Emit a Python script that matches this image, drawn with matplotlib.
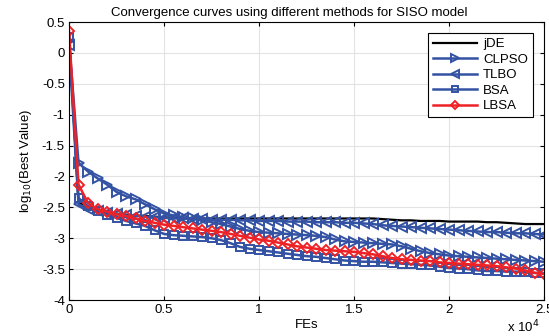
import numpy as np
import matplotlib
matplotlib.use("Agg")
import matplotlib.pyplot as plt
from matplotlib.ticker import FuncFormatter

plt.rcParams['font.family'] = ['Liberation Sans', 'DejaVu Sans']
plt.rcParams['axes.unicode_minus'] = False

# function evaluations, one record every 500 FEs
fes = np.arange(0, 25001, 500)

jde = [0.3, -2.42, -2.5, -2.55, -2.58, -2.6, -2.62, -2.63, -2.64, -2.65,
       -2.66, -2.67, -2.67, -2.68, -2.68, -2.68, -2.68, -2.68, -2.68, -2.68,
       -2.68, -2.68, -2.68, -2.68, -2.68, -2.68, -2.68, -2.68, -2.68, -2.68,
       -2.68, -2.68, -2.68, -2.69, -2.7, -2.71, -2.71, -2.72, -2.72, -2.72,
       -2.73, -2.73, -2.73, -2.73, -2.74, -2.74, -2.75, -2.76, -2.77, -2.77,
       -2.77]
clpso = [0.2, -1.78, -1.92, -2.03, -2.13, -2.25, -2.32, -2.37, -2.45, -2.53,
         -2.6, -2.63, -2.66, -2.68, -2.71, -2.74, -2.77, -2.81, -2.85, -2.88,
         -2.9, -2.91, -2.92, -2.93, -2.94, -2.95, -2.96, -2.98, -3.02, -3.05,
         -3.06, -3.07, -3.08, -3.09, -3.1, -3.13, -3.17, -3.21, -3.24, -3.26,
         -3.28, -3.29, -3.3, -3.31, -3.32, -3.33, -3.34, -3.35, -3.36, -3.37,
         -3.38]
tlbo = [0.13, -2.45, -2.52, -2.56, -2.59, -2.61, -2.63, -2.64, -2.65, -2.66,
        -2.67, -2.68, -2.68, -2.69, -2.69, -2.7, -2.7, -2.7, -2.71, -2.71,
        -2.72, -2.72, -2.72, -2.73, -2.73, -2.73, -2.74, -2.74, -2.74, -2.75,
        -2.75, -2.76, -2.77, -2.79, -2.8, -2.81, -2.82, -2.83, -2.84, -2.85,
        -2.86, -2.87, -2.88, -2.89, -2.9, -2.9, -2.91, -2.92, -2.92, -2.93,
        -2.94]
bsa = [0.25, -2.35, -2.48, -2.56, -2.62, -2.67, -2.72, -2.76, -2.8, -2.87,
       -2.93, -2.95, -2.96, -2.97, -2.98, -3.0, -3.03, -3.08, -3.14, -3.17,
       -3.19, -3.21, -3.23, -3.25, -3.27, -3.29, -3.3, -3.32, -3.34, -3.36,
       -3.37, -3.38, -3.38, -3.39, -3.4, -3.41, -3.42, -3.43, -3.44, -3.46,
       -3.48, -3.49, -3.5, -3.52, -3.53, -3.53, -3.54, -3.54, -3.55, -3.56,
       -3.57]
lbsa = [0.35, -2.13, -2.43, -2.53, -2.57, -2.61, -2.64, -2.68, -2.72, -2.75,
        -2.78, -2.8, -2.82, -2.84, -2.86, -2.88, -2.9, -2.93, -2.96, -2.99,
        -3.02, -3.04, -3.07, -3.1, -3.13, -3.15, -3.17, -3.19, -3.2, -3.21,
        -3.22, -3.24, -3.26, -3.29, -3.32, -3.34, -3.35, -3.36, -3.37, -3.39,
        -3.4, -3.41, -3.42, -3.43, -3.44, -3.45, -3.47, -3.49, -3.52, -3.56,
        -3.58]

blue = '#3352a3'
red = '#ee2226'
fs = 9.5

fig = plt.figure(figsize=(5.49, 3.36), dpi=100)
ax = fig.add_axes([0.1257, 0.107, 0.8653, 0.8275])

ax.plot(fes, jde, color='k', lw=1.6, label='jDE')
ax.plot(fes, clpso, color=blue, lw=1.8, marker='>', ms=6.5, mfc='none',
        mew=1.4, label='CLPSO')
ax.plot(fes, tlbo, color=blue, lw=1.8, marker='<', ms=6.5, mfc='none',
        mew=1.4, label='TLBO')
ax.plot(fes, bsa, color=blue, lw=1.8, marker='s', ms=6, mfc='none',
        mew=1.4, label='BSA')
ax.plot(fes, lbsa, color=red, lw=1.8, marker='D', ms=5, mfc='none',
        mew=1.4, label='LBSA')

ax.set_xlim(0, 25000)
ax.set_ylim(-4, 0.5)
ax.set_xticks([0, 5000, 10000, 15000, 20000, 25000])
ax.xaxis.set_major_formatter(FuncFormatter(lambda v, p: f'{v / 1e4:g}'))
ax.set_yticks(np.arange(-4, 0.51, 0.5))
ax.yaxis.set_major_formatter(FuncFormatter(lambda v, p: f'{v:g}'))
ax.tick_params(direction='in', top=True, right=True, length=3,
               labelsize=fs, width=0.8, pad=3)
ax.grid(True, color='#e3e3e3', lw=0.8)
for s in ax.spines.values():
    s.set_linewidth(0.8)

ax.set_title('Convergence curves using different methods for SISO model',
             fontsize=fs, pad=4, x=0.463)
ax.set_xlabel('FEs', fontsize=fs, labelpad=2)
ax.set_ylabel('log$_{10}$(Best Value)', fontsize=fs, labelpad=6)
fig.text(0.982, 0.012, 'x 10$^4$', fontsize=fs, ha='right')

leg = ax.legend(loc='upper right', fontsize=fs, fancybox=False,
                edgecolor='k', framealpha=1, handlelength=3.3,
                numpoints=1, markerscale=0.8, borderpad=0.35,
                labelspacing=0.25, handletextpad=0.5,
                bbox_to_anchor=(0.99, 0.983))
leg.get_frame().set_linewidth(0.8)

fig.savefig('out.png', dpi=100)
